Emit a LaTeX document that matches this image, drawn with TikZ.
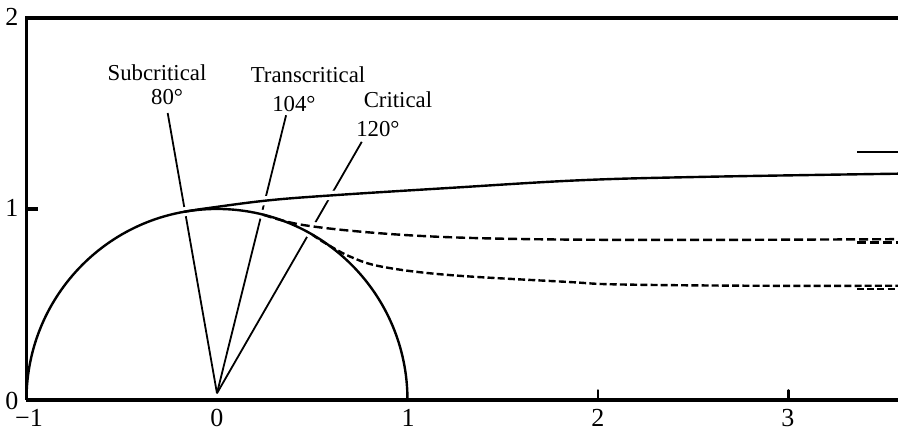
\documentclass[tikz,border=0pt]{standalone}
\usepackage{fontspec}
\setmainfont{Liberation Serif}
\usetikzlibrary{calc}
\begin{document}
\begin{tikzpicture}[x=95.25pt,y=95.5pt,
  lbl/.style={font=\fontsize{11.4}{13}\selectfont, inner sep=0pt, anchor=base},
  ticklbl/.style={font=\fontsize{13}{15}\selectfont, inner sep=0pt},
  radial/.style={line width=0.9pt},
  curve/.style={line width=1.2pt},
  halo/.style={draw=white, line width=4.5pt},
  updash/.style={dash pattern=on 4.5pt off 2pt},
  lodash/.style={dash pattern=on 3.5pt off 1.6pt},
  axisline/.style={line width=1.8pt},
  baseaxis/.style={line width=2pt}]
\useasboundingbox (-1.139,-0.157) rectangle (3.575,2.094);
\begin{scope}
\clip (-1.139,-0.157) rectangle (3.575,2.094);

% labels
\node[lbl] (sub) at (-0.315,1.675) {Subcritical};
\node[lbl] (sub80) at (-0.262,1.545) {80°};
\node[lbl] (trans) at (0.478,1.660) {Transcritical};
\node[lbl] (t104) at (0.404,1.508) {104°};
\node[lbl] (crit) at (0.950,1.529) {Critical};
\node[lbl] (c120) at (0.845,1.377) {120°};

% radial lines
\coordinate (O) at (0,0.035);
\coordinate (S) at ($(O)+(100:1.49)$);
\coordinate (T) at ($(O)+(76:1.50)$);
\coordinate (C) at ($(O)+(60:1.52)$);
\draw[radial] (O) -- (S);
\draw[radial] (O) -- (T);
\draw[radial] (O) -- (C);

% curve paths
\def\solidcurve{plot[smooth,tension=0.6] coordinates {(-0.174,0.985) (-0.05,1.004) (0.27,1.045) (0.63,1.073) (1.22,1.110) (1.9,1.150) (2.55,1.168) (3.6,1.185)}}
\def\upcurve{plot[smooth,tension=0.6] coordinates {(0.242,0.970) (0.44,0.918) (0.79,0.878) (1.22,0.852) (1.8,0.840) (2.6,0.838) (3.6,0.842)}}
\def\locurve{plot[smooth,tension=0.6] coordinates {(0.5,0.866) (0.56,0.826) (0.70,0.750) (0.87,0.697) (1.22,0.654) (1.84,0.618) (2.1,0.605) (2.8,0.598) (3.6,0.598)}}

% halos
\path[halo] (1,0) arc[start angle=0,end angle=180,radius=1];
\path[halo] \solidcurve;
\path[halo] \upcurve;
\path[halo] \locurve;

% strokes
\draw[curve] (1,0) arc[start angle=0,end angle=180,radius=1];
\draw[curve] \solidcurve;
\draw[curve,updash] \upcurve;
\draw[curve,lodash] \locurve;

% right end markers
\coordinate (m1a) at (3.36,1.298); \coordinate (m1b) at (3.6,1.298);
\coordinate (m2a) at (3.36,0.824); \coordinate (m2b) at (3.6,0.824);
\coordinate (m3a) at (3.36,0.582); \coordinate (m3b) at (3.6,0.582);
\draw[curve] (m1a) -- (m1b);
\draw[curve,updash] (m2a) -- (m2b);
\draw[curve,lodash] (m3a) -- (m3b);

% axes
\coordinate (tl) at (-1,2);
\coordinate (tr) at (3.6,2);
\coordinate (bl) at (-1,0);
\coordinate (br) at (3.6,0);
\draw[axisline,line join=miter] (tr) -- (tl) -- (bl);
\draw[baseaxis] (bl) -- (br);
\coordinate (yt) at (-0.94,1);
\draw[axisline] (-1,1) -- (yt);
\coordinate (x2) at (2,0.05);
\coordinate (x3) at (3,0.05);
\draw[line width=1.3pt,line cap=round] (2,0) -- (x2);
\draw[line width=1.3pt,line cap=round] (3,0) -- (x3);
\end{scope}

% tick labels
\node[ticklbl] (y2) at (-1.076,2.008) {2};
\node[ticklbl] (y1) at (-1.076,1.005) {1};
\node[ticklbl] (y0) at (-1.076,-0.005) {0};
\node[ticklbl] (xm1) at (-0.987,-0.094) {−1};
\node[ticklbl] (x0) at (0,-0.094) {0};
\node[ticklbl] (xp1) at (1.003,-0.094) {1};
\node[ticklbl] (xp2) at (2,-0.094) {2};
\node[ticklbl] (xp3) at (2.997,-0.094) {3};
\end{tikzpicture}
\end{document}
